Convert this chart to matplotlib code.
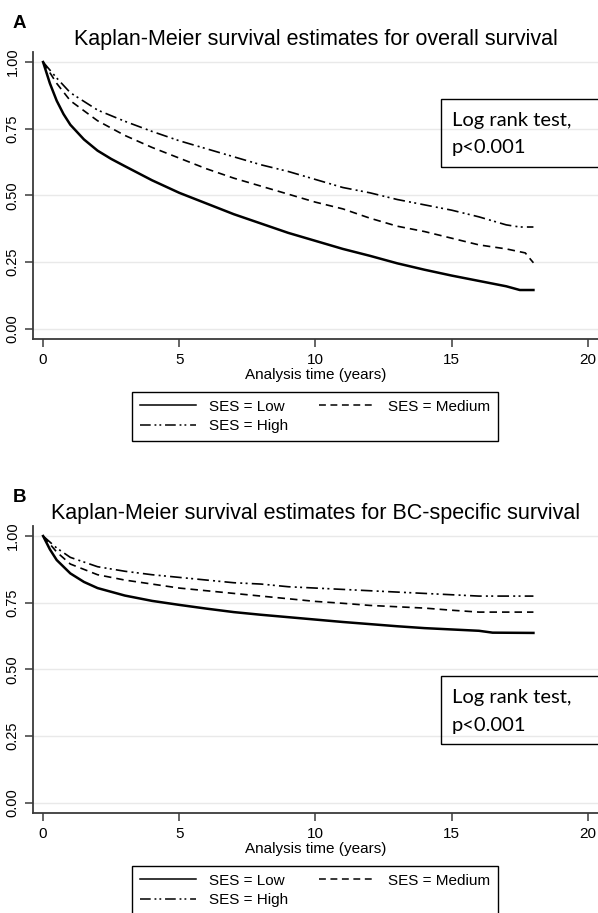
import matplotlib
matplotlib.use("Agg")
import matplotlib.pyplot as plt
from matplotlib.lines import Line2D
from matplotlib.patches import Rectangle

plt.rcParams["font.family"] = ["Liberation Sans", "DejaVu Sans"]

W, H = 598, 913

# ---- data (years, survival probability) ----
t_os_low = [0, 0.25, 0.5, 0.75, 1, 1.5, 2, 2.5, 3, 4, 5, 6, 7, 8, 9, 10, 11, 12, 13, 14, 15,
            16, 17, 17.5, 18]
s_os_low = [1.0, 0.92, 0.855, 0.805, 0.765, 0.71, 0.668, 0.637, 0.61, 0.557, 0.51, 0.47,
            0.43, 0.395, 0.36, 0.33, 0.30, 0.274, 0.246, 0.222, 0.20, 0.18, 0.16, 0.146,
            0.146]

t_os_med = [0, 0.5, 1, 2, 3, 4, 5, 6, 7, 8, 9, 10, 11, 12, 13, 14, 15, 16, 17, 17.7, 17.9, 18]
s_os_med = [1.0, 0.92, 0.855, 0.78, 0.725, 0.68, 0.64, 0.60, 0.565, 0.535, 0.505, 0.475,
            0.45, 0.415, 0.385, 0.365, 0.34, 0.315, 0.30, 0.285, 0.26, 0.248]

t_os_high = [0, 0.5, 1, 2, 3, 4, 5, 6, 7, 8, 9, 10, 11, 12, 13, 14, 15, 16, 17, 17.5, 18]
s_os_high = [1.0, 0.94, 0.885, 0.82, 0.778, 0.74, 0.705, 0.675, 0.645, 0.615, 0.59, 0.56,
             0.53, 0.51, 0.485, 0.465, 0.445, 0.42, 0.39, 0.382, 0.382]

t_bc_low = [0, 0.25, 0.5, 1, 1.5, 2, 3, 4, 5, 6, 7, 8, 9, 10, 11, 12, 13, 14, 15, 16, 16.5, 18]
s_bc_low = [1.0, 0.95, 0.91, 0.86, 0.828, 0.805, 0.777, 0.757, 0.742, 0.728, 0.715, 0.705,
            0.696, 0.687, 0.678, 0.67, 0.662, 0.655, 0.65, 0.645, 0.638, 0.637]

t_bc_med = [0, 0.5, 1, 2, 3, 4, 5, 6, 7, 8, 9, 10, 11, 12, 13, 14, 15, 16, 18]
s_bc_med = [1.0, 0.94, 0.895, 0.855, 0.835, 0.82, 0.805, 0.795, 0.785, 0.775, 0.765, 0.755,
            0.748, 0.74, 0.735, 0.73, 0.722, 0.715, 0.715]

t_bc_high = [0, 0.5, 1, 2, 3, 4, 5, 6, 7, 8, 9, 10, 11, 12, 13, 14, 15, 16, 18]
s_bc_high = [1.0, 0.955, 0.92, 0.885, 0.868, 0.855, 0.845, 0.835, 0.825, 0.82, 0.81, 0.805,
             0.80, 0.795, 0.79, 0.785, 0.78, 0.775, 0.775]

yticks = [0, 0.25, 0.5, 0.75, 1.0]
ytick_labels = ["0.00", "0.25", "0.50", "0.75", "1.00"]
xticks = [0, 5, 10, 15, 20]
group_labels = ["SES = Low", "SES = Medium", "SES = High"]

styles = {
    "low": dict(color="black", lw=1.8, linestyle="-"),
    "med": dict(color="black", lw=1.2, linestyle=(0, (4.5, 3))),
    "high": dict(color="black", lw=1.2, linestyle=(0, (7, 2.5, 1.2, 2, 1.2, 2.5))),
}

fig = plt.figure(figsize=(W / 100, H / 100), dpi=100)


def px(x, y):
    return x / W, 1 - y / H


def km_panel(top, letter, title, curves, box_top):
    ax = fig.add_axes([33 / W, 1 - (top + 287) / H, 1 - 33 / W, 287 / H])
    for (t, s), key in zip(curves, ["low", "med", "high"]):
        ax.plot(t, s, **styles[key])
    ax.set_xlim(-0.37, 20.37)
    ax.set_ylim(-0.0375, 1.0375)
    ax.set_yticks(yticks)
    ax.set_yticklabels(ytick_labels, rotation=90, va="center")
    ax.set_xticks(xticks)
    ax.grid(axis="y", color="#e9e9e9", lw=1.0)
    ax.set_axisbelow(True)
    for side in ["top", "right"]:
        ax.spines[side].set_visible(False)
    for side in ["left", "bottom"]:
        ax.spines[side].set_color("#3a3a3a")
        ax.spines[side].set_linewidth(1.3)
    ax.tick_params(axis="both", length=6, width=1.1, color="#3a3a3a", labelsize=11)
    ax.tick_params(axis="y", pad=3.5, labelsize=10.5)
    ax.tick_params(axis="x", pad=4)
    ax.set_xlabel("Analysis time (years)", fontsize=11, labelpad=1)

    fig.text(*px(19, top - 29), letter, fontsize=13.5, fontweight="bold",
             ha="center", va="center")
    fig.text(*px(316, top - 12), title, fontsize=15.5, ha="center", va="center")

    # log rank annotation box, running off the right edge as in the original
    fig.patches.append(Rectangle(px(441, box_top + 68), 200 / W, 68 / H,
                                 transform=fig.transFigure, fill=False,
                                 edgecolor="black", lw=1.0))
    fig.text(*px(452, box_top + 21), "Log rank test,", family="Lato",
             fontsize=14.5, va="center")
    fig.text(*px(452, box_top + 49), "p<0.001", family="Lato",
             fontsize=14.5, va="center")

    handles = [Line2D([], [], color="black", lw=1.1, linestyle="-"),
               Line2D([], [], color="black", lw=1.1, linestyle=styles["high"]["linestyle"]),
               Line2D([], [], color="black", lw=1.1, linestyle=styles["med"]["linestyle"])]
    labels = [group_labels[0], group_labels[2], group_labels[1]]
    leg = fig.legend(handles, labels, ncol=2, loc="upper left",
                     bbox_to_anchor=px(132, top + 340), borderaxespad=0,
                     fontsize=11, handlelength=3.7, handletextpad=0.85,
                     columnspacing=2.0, labelspacing=0.35, borderpad=0.5,
                     fancybox=False, framealpha=1)
    leg.get_frame().set_edgecolor("black")
    leg.get_frame().set_linewidth(1.0)
    return ax


km_panel(52, "A", "Kaplan-Meier survival estimates for overall survival",
         [(t_os_low, s_os_low), (t_os_med, s_os_med), (t_os_high, s_os_high)],
         box_top=99)
km_panel(526, "B", "Kaplan-Meier survival estimates for BC-specific survival",
         [(t_bc_low, s_bc_low), (t_bc_med, s_bc_med), (t_bc_high, s_bc_high)],
         box_top=676)

fig.savefig("out.png", dpi=100)
